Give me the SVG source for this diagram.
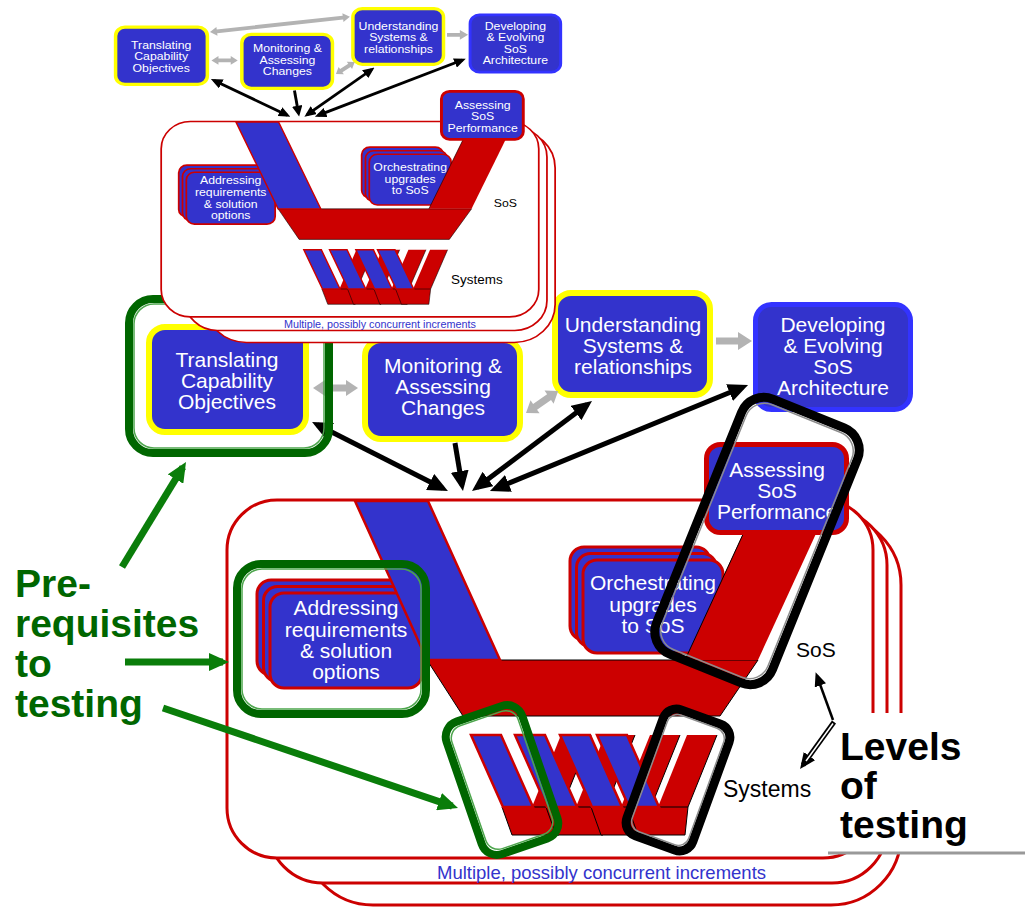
<svg xmlns="http://www.w3.org/2000/svg" xmlns:xlink="http://www.w3.org/1999/xlink" width="1025" height="907" viewBox="0 0 1025 907">
<style>
.nt{font-family:"Liberation Sans",Arial,sans-serif;font-size:21px;fill:#ffffff;text-anchor:middle}
.lbl{font-family:"Liberation Sans",Arial,sans-serif;fill:#000}
.ybox{fill:#3333CC;stroke:#FFFF00;stroke-width:6}
.rbox{fill:#3333CC;stroke:#CC0000;stroke-width:3}
.frame{fill:#ffffff;stroke:#CC0000;stroke-width:3}
.gar{fill:#B3B3B3}
.bar{stroke:#000;stroke-width:5;fill:none}
.grn{stroke:#0a7d0a;stroke-width:7;fill:none;marker-end:url(#gh)}
.gring{fill:none;stroke:#006600;stroke-width:8}
.gring2{fill:none;stroke:#4da64d;stroke-width:1.5}
.bring{fill:none;stroke:#000;stroke-width:9}
.bring2{fill:none;stroke:#8c8c8c;stroke-width:1.5}
.big{font-family:"Liberation Sans",Arial,sans-serif;font-weight:bold;font-size:39px}
</style>
<defs>
<marker id="ah" viewBox="0 0 20 18" refX="14" refY="9" markerWidth="20" markerHeight="18" markerUnits="userSpaceOnUse" orient="auto-start-reverse">
<path d="M0,0 L20,9 L0,18 z" fill="#000"/>
</marker>
<marker id="gh" viewBox="0 0 20 18" refX="14" refY="9" markerWidth="20" markerHeight="18" markerUnits="userSpaceOnUse" orient="auto">
<path d="M0,0 L20,9 L0,18 z" fill="#0a7d0a"/>
</marker>
<marker id="sh" viewBox="0 0 14 12" refX="10" refY="6" markerWidth="14" markerHeight="12" markerUnits="userSpaceOnUse" orient="auto">
<path d="M0,0 L14,6 L0,12 z" fill="#000"/>
</marker>
<marker id="hh" viewBox="0 0 16 14" refX="11" refY="7" markerWidth="16" markerHeight="14" markerUnits="userSpaceOnUse" orient="auto">
<path d="M0,0 L16,7 L0,14 z" fill="#000"/>
</marker>
<g id="sv">
<polygon points="90,0 120,0 91,72 61,72" fill="#CC0000"/>
<line x1="120" y1="0" x2="91" y2="72" stroke="#000" stroke-width="1"/>
<polygon points="31,72 91,72 88,100 41,100" fill="#CC0000" stroke="#000" stroke-width="1"/>
<polygon points="0,0 30,0 62,72 32,72" fill="#3333CC" stroke="#CC0000" stroke-width="2.5"/>
</g>
</defs>

<g id="base">
<g id="increments">
<rect class="frame" x="303" y="515" width="598" height="390" rx="70"/>
<rect class="frame" x="268" y="510" width="619" height="373" rx="55"/>
<rect class="frame" x="227" y="500" width="646" height="358" rx="50"/>
<text x="437" y="879" font-family="Liberation Sans, Arial, sans-serif" font-size="18.5" fill="#3333CC">Multiple, possibly concurrent increments</text>
</g>
<g id="addressing">
<rect class="rbox" x="257" y="580" width="152" height="95" rx="14"/>
<rect class="rbox" x="263.5" y="586.5" width="152" height="95" rx="14"/>
<rect class="rbox" x="270" y="593" width="152" height="95" rx="14"/>
<text class="nt" x="346" y="615">Addressing</text>
<text class="nt" x="346" y="637">requirements</text>
<text class="nt" x="346" y="658">&amp; solution</text>
<text class="nt" x="346" y="679">options</text>
</g>
<g id="orchestrating">
<rect class="rbox" x="570" y="547" width="140" height="93" rx="14"/>
<rect class="rbox" x="576.5" y="553.5" width="140" height="93" rx="14"/>
<rect class="rbox" x="583" y="560" width="140" height="93" rx="14"/>
<text class="nt" x="653" y="590">Orchestrating</text>
<text class="nt" x="653" y="612">upgrades</text>
<text class="nt" x="653" y="633">to SoS</text>
</g>
<g id="sos-v">
<polygon points="427,660 758,660 720,716 463,716" fill="#CC0000" stroke="#000" stroke-width="1"/>
<polygon points="355,501 428,501 500,660 427,660" fill="#3333CC" stroke="#CC0000" stroke-width="2.5"/>
<polygon points="758,501 831,501 758,660 685,660" fill="#CC0000"/>
<line x1="745" y1="530" x2="685" y2="660" stroke="#000" stroke-width="1"/>
<text class="lbl" x="796" y="657" font-size="21">SoS</text>
</g>
<g id="systems-v">
<use href="#sv" xlink:href="#sv" x="471" y="735"/>
<use href="#sv" xlink:href="#sv" x="515" y="735"/>
<use href="#sv" xlink:href="#sv" x="560" y="735"/>
<use href="#sv" xlink:href="#sv" x="597" y="735"/>
<text class="lbl" x="723" y="797" font-size="23">Systems</text>
</g>
<g id="assessing">
<rect x="706.5" y="444.5" width="140" height="88" rx="14" fill="#3333CC" stroke="#CC0000" stroke-width="5"/>
<text class="nt" x="777" y="477">Assessing</text>
<text class="nt" x="777" y="498">SoS</text>
<text class="nt" x="777" y="519">Performance</text>
</g>
<g id="translating">
<rect class="ybox" x="149" y="327" width="157" height="105" rx="16"/>
<text class="nt" x="227" y="367">Translating</text>
<text class="nt" x="227" y="388">Capability</text>
<text class="nt" x="227" y="409">Objectives</text>
</g>
<g id="monitoring">
<rect class="ybox" x="365" y="340" width="155" height="99" rx="16"/>
<text class="nt" x="443" y="373">Monitoring &amp;</text>
<text class="nt" x="443" y="394">Assessing</text>
<text class="nt" x="443" y="415">Changes</text>
</g>
<g id="understanding">
<rect class="ybox" x="555" y="293" width="155" height="102" rx="16"/>
<text class="nt" x="633" y="332">Understanding</text>
<text class="nt" x="633" y="353">Systems &amp;</text>
<text class="nt" x="633" y="374">relationships</text>
</g>
<g id="developing">
<rect x="755.5" y="304.5" width="155" height="105" rx="16" fill="#3333CC" stroke="#3333FF" stroke-width="5"/>
<text class="nt" x="833" y="332">Developing</text>
<text class="nt" x="833" y="353">&amp; Evolving</text>
<text class="nt" x="833" y="374">SoS</text>
<text class="nt" x="833" y="395">Architecture</text>
</g>
<g id="connectors">
<polygon class="gar" transform="translate(313,388)" points="0,0 12,-8 12,-3.5 33,-3.5 33,-8 45,0 33,8 33,3.5 12,3.5 12,8"/>
<polygon class="gar" transform="translate(526,413) rotate(-34.5)" points="0,0 11,-8 11,-3.5 28,-3.5 28,-8 39,0 28,8 28,3.5 11,3.5 11,8"/>
<polygon class="gar" transform="translate(716,341)" points="0,-3.5 22,-3.5 22,-9 36,0 22,9 22,3.5 0,3.5"/>
<line class="bar" x1="317.4" y1="424.7" x2="442.6" y2="488.3" marker-start="url(#ah)" marker-end="url(#ah)"/>
<line class="bar" x1="455" y1="443" x2="462" y2="485" marker-end="url(#ah)"/>
<line class="bar" x1="587.2" y1="404.6" x2="476.8" y2="487.4" marker-start="url(#ah)" marker-end="url(#ah)"/>
<line class="bar" x1="742.5" y1="387.3" x2="495.5" y2="488.7" marker-start="url(#ah)" marker-end="url(#ah)"/>
</g>
</g>

<g id="prerequisites">
<rect class="gring" x="129" y="299" width="200" height="154" rx="24"/>
<rect class="gring2" x="134" y="304" width="190" height="144" rx="20"/>
<rect class="gring" x="237" y="564" width="189" height="150" rx="24"/>
<rect class="gring2" x="242" y="569" width="179" height="140" rx="20"/>
<g transform="translate(502,780) rotate(-19)">
<rect class="gring" x="-40" y="-70" width="80" height="140" rx="16"/>
<rect class="gring2" x="-35" y="-65" width="70" height="130" rx="13"/>
</g>
<line class="grn" x1="122" y1="567" x2="182.9" y2="467.1"/>
<line class="grn" x1="125" y1="662" x2="223" y2="662"/>
<line class="grn" x1="163" y1="708" x2="452.3" y2="806.1"/>
<g class="big" fill="#006600">
<text x="15" y="597">Pre-</text>
<text x="15" y="637">requisites</text>
<text x="15" y="677">to</text>
<text x="15" y="717">testing</text>
</g>
</g>

<g id="levels-rings">
<g transform="translate(757,541) rotate(22)">
<rect class="bring" x="-62.5" y="-137.5" width="125" height="275" rx="24"/>
<rect class="bring2" x="-57" y="-132" width="114" height="264" rx="20"/>
</g>
<g transform="translate(678,780) rotate(20)">
<rect class="bring" x="-35" y="-67" width="70" height="134" rx="14"/>
<rect class="bring2" x="-30" y="-62" width="60" height="124" rx="11"/>
</g>
</g>

<g id="overview">
<g transform="matrix(0.5845 0 0 0.5455 28.5 -151.2)">
<use href="#base" xlink:href="#base"/>
<polygon class="gar" transform="translate(310.5,336) rotate(-6.67)" points="0,0 12,-8 12,-3.5 229,-3.5 229,-8 241,0 229,8 229,3.5 12,3.5 12,8"/>
</g>
</g>

<g id="levels-label">
<rect x="828" y="713" width="197" height="140" fill="#ffffff"/>
<line x1="828" y1="853" x2="1025" y2="853" stroke="#999999" stroke-width="3"/>
<g class="big" fill="#000">
<text x="840" y="760">Levels</text>
<text x="840" y="799">of</text>
<text x="840" y="838">testing</text>
</g>
<line x1="833" y1="720" x2="817" y2="676" stroke="#000" stroke-width="2.5" marker-end="url(#sh)"/>
<line x1="834" y1="722" x2="803" y2="765" stroke="#000" stroke-width="5" marker-end="url(#hh)"/>
<line x1="833" y1="723.5" x2="806" y2="761" stroke="#fff" stroke-width="1.5"/>
</g>
</svg>
